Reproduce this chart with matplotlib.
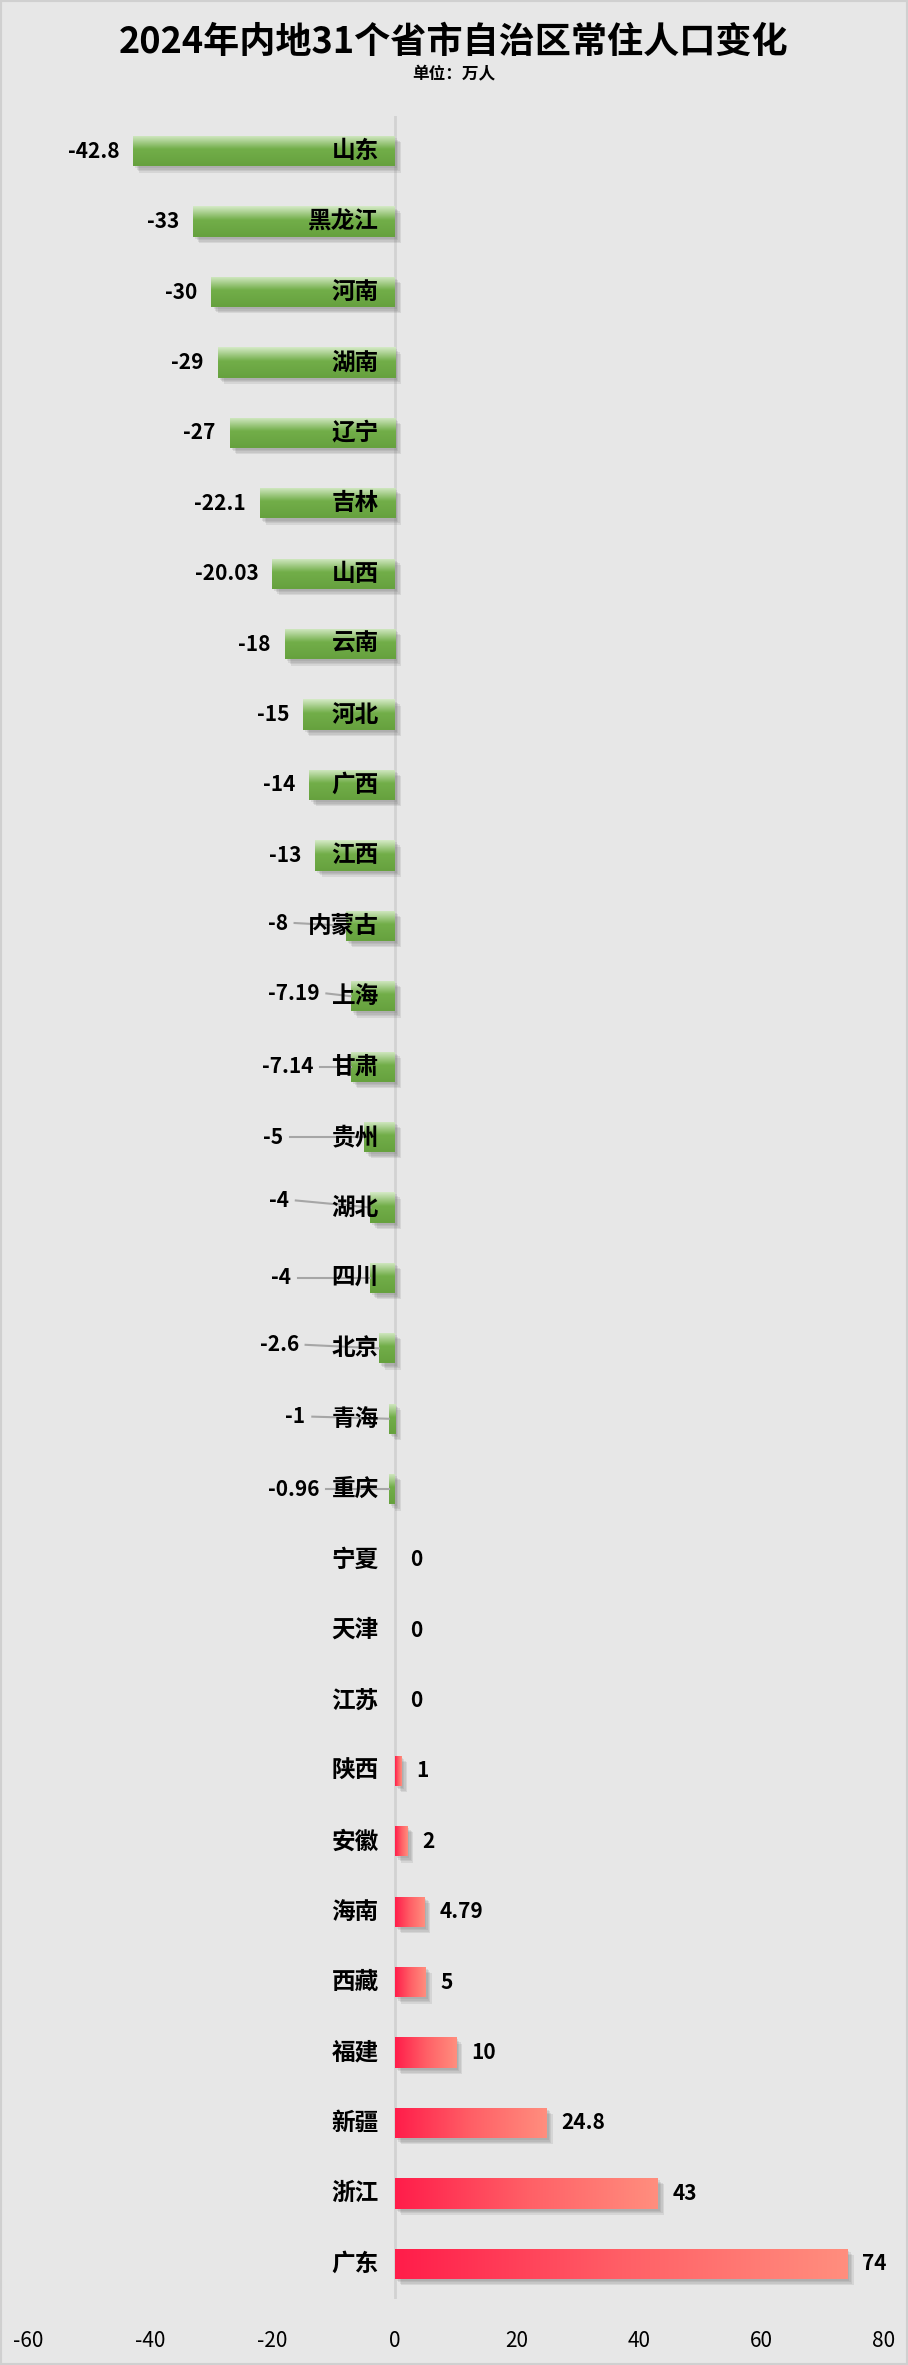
import numpy as np
import matplotlib
matplotlib.use("Agg")
import matplotlib.pyplot as plt
import matplotlib.patheffects as pe
from matplotlib.colors import to_rgb
from matplotlib.patches import Rectangle

plt.rcParams['font.family'] = ['Noto Sans CJK SC', 'DejaVu Sans']

provinces = ["山东", "黑龙江", "河南", "湖南", "辽宁", "吉林", "山西", "云南", "河北", "广西",
             "江西", "内蒙古", "上海", "甘肃", "贵州", "湖北", "四川", "北京", "青海", "重庆",
             "宁夏", "天津", "江苏", "陕西", "安徽", "海南", "西藏", "福建", "新疆", "浙江", "广东"]
changes = [-42.8, -33, -30, -29, -27, -22.1, -20.03, -18, -15, -14,
           -13, -8, -7.19, -7.14, -5, -4, -4, -2.6, -1, -0.96,
           0, 0, 0, 1, 2, 4.79, 5, 10, 24.8, 43, 74]
value_text = ["-42.8", "-33", "-30", "-29", "-27", "-22.1", "-20.03", "-18", "-15", "-14",
              "-13", "-8", "-7.19", "-7.14", "-5", "-4", "-4", "-2.6", "-1", "-0.96",
              "0", "0", "0", "1", "2", "4.79", "5", "10", "24.8", "43", "74"]
xticks = [-60, -40, -20, 0, 20, 40, 60, 80]

# labels that excel moved out with leader lines: label right edge (x) and vertical nudge (rows)
leader = {"内蒙古": (-17.5, -0.04), "上海": (-12.3, -0.04), "甘肃": (-13.3, 0.0),
          "贵州": (-18.3, 0.0), "湖北": (-17.3, -0.1), "四川": (-17.0, 0.0),
          "北京": (-15.7, -0.05), "青海": (-14.6, -0.03), "重庆": (-12.4, 0.0)}

BG = "#e7e7e7"


def ramp(stops, n):
    pos = np.array([s[0] for s in stops])
    cols = np.array([to_rgb(s[1]) for s in stops])
    t = np.linspace(0, 1, n)
    return np.stack([np.interp(t, pos, cols[:, k]) for k in range(3)], axis=-1)


green = ramp([(0, "#d5eac6"), (0.45, "#72ae49"), (1, "#66a13e")], 64)[:, None, :]
red = ramp([(0, "#ff1d4a"), (0.5, "#ff5f66"), (1, "#ff8e7e")], 128)[None, :, :]

fig = plt.figure(figsize=(9.08, 23.65), dpi=100, facecolor=BG)
ax = fig.add_axes([28 / 908, 66 / 2365, 856 / 908, 2183 / 2365])
ax.set_facecolor(BG)

n = len(provinces)
y = np.arange(n)
h = 0.43
# soft shadow: a few stacked offsets
shadow = [pe.SimplePatchShadow(offset=(d, -d), shadow_rgbFace="#7a7a7a", alpha=0.16)
          for d in (4.5, 3.5, 2.5, 1.5)]
bars = ax.barh(y, changes, height=h, color="none", zorder=2,
               path_effects=shadow + [pe.Normal()])

for i, (b, v) in enumerate(zip(bars, changes)):
    if v == 0:
        continue
    x0, x1 = min(0, v), max(0, v)
    img = green if v < 0 else red
    im = ax.imshow(img, extent=(x0, x1, i + h / 2, i - h / 2), aspect="auto",
                   interpolation="bilinear", zorder=3)
    im.set_clip_path(b)

ax.axvline(0, color="#d2d2d2", lw=2, zorder=1)

for i, (name, v, txt) in enumerate(zip(provinces, changes, value_text)):
    ax.annotate(name, (0, i), xytext=(-16, 0), textcoords="offset pixels",
                ha="right", va="center", fontsize=17, fontweight="bold", color="black", zorder=5)
    if name in leader:
        lx, dy = leader[name]
        ax.text(lx, i + dy, txt, ha="right", va="center", fontsize=15,
                fontweight="bold", color="black", zorder=5)
        ax.plot([lx + 1.1, v], [i + dy, i], color="#a6a6a6", lw=1.5, zorder=4)
    elif v < 0:
        ax.annotate(txt, (v, i), xytext=(-14, 0), textcoords="offset pixels",
                    ha="right", va="center", fontsize=15, fontweight="bold", zorder=5)
    else:
        ax.annotate(txt, (v, i), xytext=(15, 0), textcoords="offset pixels",
                    ha="left", va="center", fontsize=15, fontweight="bold", zorder=5)

ax.set_xlim(-60, 80)
ax.set_ylim(n - 0.5, -0.5)
ax.set_xticks(xticks)
ax.set_xticklabels([str(t) for t in xticks], fontsize=15)
ax.set_yticks([])
ax.tick_params(axis="x", length=0, pad=22)
for s in ax.spines.values():
    s.set_visible(False)

fig.text(0.5, 1 - 42 / 2365, "2024年内地31个省市自治区常住人口变化", ha="center", va="center",
         fontsize=26, fontweight="bold")
fig.text(0.5, 1 - 74 / 2365, "单位：万人", ha="center", va="center", fontsize=12, fontweight="bold")

fig.patches.append(Rectangle((0, 0), 1, 1, transform=fig.transFigure, fill=False,
                             edgecolor="#d0d0d0", lw=3))

fig.savefig("out.png", dpi=100, facecolor=BG)
